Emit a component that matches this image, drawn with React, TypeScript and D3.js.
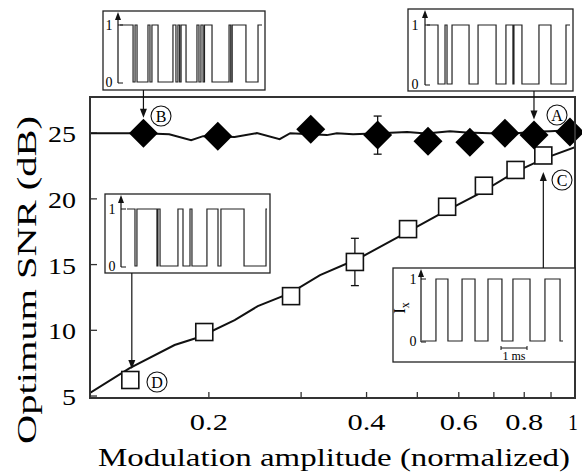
import React from 'react';
import * as d3 from 'd3';

// measured SNR points (filled diamonds, open squares)
const diamondAmp = [0.150, 0.208, 0.313, 0.42, 0.524, 0.630, 0.735, 0.835, 0.978];
const diamondSnr = [25.0, 24.77, 25.3, 24.85, 24.39, 24.3, 25.0, 24.85, 25.08];
const squareAmp = [0.1416, 0.196, 0.287, 0.38, 0.48, 0.57, 0.67, 0.77, 0.87];
const squareSnr = [6.22, 9.87, 12.6, 15.2, 17.7, 19.4, 21.0, 22.2, 23.3];

// error bars: [series index, half width in dB]
const diamondErr = [3, 1.45];
const squareErr = [3, 1.8];

// simulation curves
const diamondFitAmp = [0.1186, 0.150, 0.168, 0.185, 0.195, 0.224, 0.247, 0.273, 0.286, 0.336, 0.351, 0.377, 0.424, 0.478, 0.52, 0.577, 0.62, 0.688, 0.775, 0.83, 0.896, 1.0];
const diamondFitSnr = [25.0, 25.0, 24.92, 24.47, 24.77, 24.7, 25.0, 24.54, 25.0, 24.85, 25.0, 24.92, 25.0, 25.08, 24.98, 25.15, 25.05, 25.0, 25.0, 25.1, 25.15, 25.23];
const squareFitAmp = [0.1186, 0.1412, 0.172, 0.192, 0.224, 0.248, 0.286, 0.326, 0.388, 0.463, 0.552, 0.659, 0.768, 0.877, 1.0];
const squareFitSnr = [5.23, 7.13, 8.88, 9.49, 10.78, 11.84, 12.83, 14.2, 15.5, 17.17, 18.84, 20.44, 22.03, 23.1, 23.94];

const xTicks = [0.2, 0.3, 0.4, 0.5, 0.6, 0.7, 0.8, 0.9, 1];
const xLabels = [0.2, 0.4, 0.6, 0.8, 1];
const yTicks = [5, 10, 15, 20, 25];

// inset time traces: switching times (0..100 of the trace width)
const traceB = [9.2, 10.6, 12.0, 19.7, 21.1, 22.5, 26.8, 37.3, 39.4, 40.8, 42.0, 43.0, 46.5, 54.2, 55.6, 57.0, 58.5, 59.5, 64.8, 76.8, 78.0, 79.0, 88.7, 97.2];
const traceA = [7.7, 12.6, 14.0, 17.5, 29.4, 35.7, 48.3, 55.2, 60.1, 60.8, 66.4, 78.3, 86.7, 97.2];
const traceD = [5.7, 7.1, 21.4, 22.1, 23.6, 36.4, 40.0, 45.0, 46.4, 57.1, 65.0, 67.1, 83.6, 99.3];
const traceC = [9.9, 18.4, 28.4, 37.6, 46.8, 56.7, 64.5, 76.6, 87.2, 97.9];

const serif = 'Liberation Serif, Tinos, Times New Roman, Times, serif';

function Inset({ box, axisX, hiY, loY, x0, x1, edges, startHigh, numX }) {
    const t = d3.scaleLinear().domain([0, 100]).range([x0, x1]);
    let level = startHigh ? 1 : 0;
    const pts = [[0, level]];
    edges.forEach((e) => {
        pts.push([e, level]);
        level = 1 - level;
        pts.push([e, level]);
    });
    pts.push([100, level]);
    const line = d3.line()
        .x((d) => t(d[0]))
        .y((d) => (d[1] ? hiY : loY));
    return (
        <g>
            <rect x={box[0]} y={box[1]} width={box[2]} height={box[3]} fill="white" stroke="#222" strokeWidth={1.3} />
            <line x1={axisX} y1={loY + 1} x2={axisX} y2={box[1] + 7} stroke="#111" strokeWidth={1.2} />
            <path d={`M${axisX - 3},${box[1] + 9} L${axisX},${box[1] + 1} L${axisX + 3},${box[1] + 9} Z`} fill="#111" />
            <line x1={axisX} y1={hiY} x2={axisX + 5} y2={hiY} stroke="#111" strokeWidth={1} />
            <line x1={axisX} y1={loY + 1} x2={axisX + 5} y2={loY + 1} stroke="#111" strokeWidth={1} />
            <text x={numX} y={hiY + 5} fontFamily={serif} fontSize={14} textAnchor="middle">1</text>
            <text x={numX} y={loY + 5} fontFamily={serif} fontSize={14} textAnchor="middle">0</text>
            <path d={line(pts)} fill="none" stroke="#222" strokeWidth={1.2} />
        </g>
    );
}

function Tag({ cx, cy, label }) {
    return (
        <g>
            <circle cx={cx} cy={cy} r={10} fill="white" stroke="#111" strokeWidth={1.1} />
            <text x={cx} y={cy + 5.5} fontFamily={serif} fontSize={16} textAnchor="middle">{label}</text>
        </g>
    );
}

function Arrow({ x, y1, y2 }) {
    const dir = y2 > y1 ? 1 : -1;
    return (
        <g>
            <line x1={x} y1={y1} x2={x} y2={y2 - dir * 6} stroke="#111" strokeWidth={1.2} />
            <path d={`M${x - 3.5},${y2 - dir * 9} L${x},${y2} L${x + 3.5},${y2 - dir * 9} Z`} fill="#111" />
        </g>
    );
}

export default function App() {
    const left = 90, right = 575, top = 97, bottom = 398;
    const x = d3.scaleLog().domain([0.1186, 1]).range([left, right]);
    const y = d3.scaleLinear().domain([4.85, 27.75]).range([bottom, top]);

    const curve = d3.line()
        .x((d) => x(d[0]))
        .y((d) => y(d[1]));

    const dFit = diamondFitAmp.map((a, i) => [a, diamondFitSnr[i]]);
    const sFit = squareFitAmp.map((a, i) => [a, squareFitSnr[i]]);

    const hd = 14.5; // diamond half diagonal
    const sq = 17;

    const [di, de] = diamondErr;
    const [si, se] = squareErr;

    const bX = x(diamondAmp[0]);
    const aX = x(diamondAmp[7]);
    const cX = x(squareAmp[8]);
    const dX = x(squareAmp[0]) + 1.5;

    return (
        <svg width={582} height={473} style={{ position: 'absolute', left: 0, top: 0, background: 'white' }}>
            <clipPath id="plot">
                <rect x={left} y={top} width={right - left} height={bottom - top} />
            </clipPath>

            {/* axis ticks */}
            {xTicks.map((v) => (
                <line key={'xt' + v} x1={x(v)} x2={x(v)} y1={bottom} y2={bottom - 6} stroke="#333" strokeWidth={1.3} />
            ))}
            {yTicks.map((v) => (
                <line key={'yt' + v} x1={left} x2={left + 7} y1={y(v)} y2={y(v)} stroke="#333" strokeWidth={1.3} />
            ))}
            {xLabels.map((v) => (
                <text key={'xl' + v} x={v === 1 ? 573 : x(v)} y={430} fontFamily={serif} fontSize={24} textAnchor="middle"
                    textLength={v === 1 ? 10 : 38} lengthAdjust="spacingAndGlyphs">{String(v)}</text>
            ))}
            {yTicks.map((v) => (
                <text key={'yl' + v} x={76} y={y(v) + 9} fontFamily={serif} fontSize={24} textAnchor="end"
                    textLength={v < 10 ? 14 : 28} lengthAdjust="spacingAndGlyphs">{v}</text>
            ))}

            <text x={334} y={466} fontFamily={serif} fontSize={26} textAnchor="middle"
                textLength={472} lengthAdjust="spacingAndGlyphs">Modulation amplitude (normalized)</text>
            <text transform="translate(36,280) rotate(-90)" fontFamily={serif} fontSize={27} textAnchor="middle"
                textLength={328} lengthAdjust="spacingAndGlyphs">Optimum SNR (dB)</text>

            {/* curves */}
            <g clipPath="url(#plot)">
                <path d={curve(dFit)} fill="none" stroke="#111" strokeWidth={2} />
                <path d={curve(sFit)} fill="none" stroke="#111" strokeWidth={2} />
            </g>

            {/* error bars */}
            <g stroke="#111" strokeWidth={1.3}>
                <line x1={x(diamondAmp[di])} x2={x(diamondAmp[di])} y1={y(diamondSnr[di] - de)} y2={y(diamondSnr[di] + de)} />
                <line x1={x(diamondAmp[di]) - 4} x2={x(diamondAmp[di]) + 4} y1={y(diamondSnr[di] - de)} y2={y(diamondSnr[di] - de)} />
                <line x1={x(diamondAmp[di]) - 4} x2={x(diamondAmp[di]) + 4} y1={y(diamondSnr[di] + de)} y2={y(diamondSnr[di] + de)} />
                <line x1={x(squareAmp[si])} x2={x(squareAmp[si])} y1={y(squareSnr[si] - se)} y2={y(squareSnr[si] + se)} />
                <line x1={x(squareAmp[si]) - 4} x2={x(squareAmp[si]) + 4} y1={y(squareSnr[si] - se)} y2={y(squareSnr[si] - se)} />
                <line x1={x(squareAmp[si]) - 4} x2={x(squareAmp[si]) + 4} y1={y(squareSnr[si] + se)} y2={y(squareSnr[si] + se)} />
            </g>

            {/* markers */}
            {squareAmp.map((a, i) => (
                <rect key={'s' + i} x={x(a) - sq / 2} y={y(squareSnr[i]) - sq / 2} width={sq} height={sq}
                    fill="white" stroke="#111" strokeWidth={1.6} />
            ))}
            {diamondAmp.map((a, i) => {
                const cx = x(a), cy = y(diamondSnr[i]);
                return (
                    <path key={'d' + i} d={`M${cx},${cy - hd} L${cx + hd},${cy} L${cx},${cy + hd} L${cx - hd},${cy} Z`} fill="#000" />
                );
            })}

            {/* frame */}
            <rect x={left} y={top} width={right - left} height={bottom - top} fill="none" stroke="#333" strokeWidth={2} />

            {/* insets and pointers */}
            <Inset box={[103, 11, 162, 79]} axisX={118} hiY={25} loY={82} x0={120} x1={262}
                edges={traceB} startHigh={true} numX={109} />
            <Inset box={[408, 9, 165, 82]} axisX={425} hiY={25} loY={84} x0={427} x1={570}
                edges={traceA} startHigh={true} numX={415} />
            <Inset box={[105, 194, 165, 79]} axisX={121} hiY={209} loY={266} x0={127} x1={267}
                edges={traceD} startHigh={true} numX={112} />
            <Inset box={[393, 268, 182, 94]} axisX={421} hiY={279} loY={341} x0={422} x1={563}
                edges={traceC} startHigh={false} numX={413} />

            {/* I_x label and scale bar for inset C */}
            <text transform="translate(405,308) rotate(-90)" fontFamily={serif} fontSize={17} textAnchor="middle">
                I<tspan fontSize={12} dy={4}>x</tspan>
            </text>
            <g stroke="#111" strokeWidth={1}>
                <line x1={501} x2={527} y1={348} y2={348} />
                <line x1={501} x2={501} y1={346} y2={350} />
                <line x1={527} x2={527} y1={346} y2={350} />
            </g>
            <text x={514} y={360} fontFamily={serif} fontSize={12} textAnchor="middle">1 ms</text>

            <Arrow x={bX} y1={90} y2={y(diamondSnr[0]) - hd - 1} />
            <Arrow x={aX} y1={91} y2={y(diamondSnr[7]) - hd - 1} />
            <Arrow x={cX} y1={268} y2={y(squareSnr[8]) + sq / 2 + 8} />
            <Arrow x={dX} y1={273} y2={y(squareFitSnr[1]) + 1} />

            <Tag cx={161} cy={116} label="B" />
            <Tag cx={557} cy={115} label="A" />
            <Tag cx={562} cy={180} label="C" />
            <Tag cx={157} cy={382} label="D" />
        </svg>
    );
}
